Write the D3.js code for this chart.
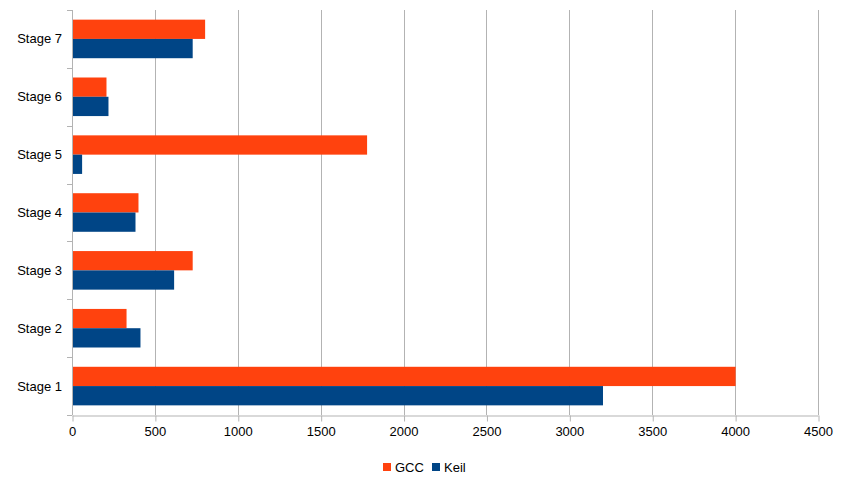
<!DOCTYPE html>
<html>
<head>
<meta charset="utf-8">
<script src="https://cdn.jsdelivr.net/npm/d3@7"></script>
<style>
  body { margin: 0; background: #fff; }
  svg { display: block; font-family: "Liberation Sans", Arial, sans-serif; }
  .axis text { font-size: 13px; fill: #000; }
  .axis path, .axis line { stroke: #b3b3b3; }
</style>
</head>
<body>
<div id="chart"></div>
<script>
// categories bottom to top
var stages = ['Stage 1', 'Stage 2', 'Stage 3', 'Stage 4', 'Stage 5', 'Stage 6', 'Stage 7'];
var gccValues = [4000, 326, 725, 398, 1777, 205, 800];
var keilValues = [3200, 410, 613, 380, 58, 217, 725];
var seriesNames = ['GCC', 'Keil'];
var xTicks = [0, 500, 1000, 1500, 2000, 2500, 3000, 3500, 4000, 4500];

var colors = { GCC: '#ff420e', Keil: '#004586' };

var svgWidth = 849, svgHeight = 479,
    margin = { top: 10, right: 31, bottom: 64, left: 72 },
    chartWidth = svgWidth - margin.left - margin.right,
    chartHeight = svgHeight - margin.top - margin.bottom;

var data = stages.map(function (s, i) {
  return { stage: s, GCC: gccValues[i], Keil: keilValues[i] };
});

var x = d3.scaleLinear().domain([0, 4500]).range([0, chartWidth]);
var y = d3.scaleBand().domain(stages.slice().reverse()).range([0, chartHeight])
  .paddingInner(1 / 3).paddingOuter(1 / 6);
var ySub = d3.scaleBand().domain(seriesNames).range([0, y.bandwidth()]);

var svg = d3.select('#chart').append('svg')
  .attr('width', svgWidth)
  .attr('height', svgHeight);
var g = svg.append('g')
  .attr('transform', 'translate(' + margin.left + ',' + margin.top + ')');

// vertical grid lines
g.append('g')
  .selectAll('line')
  .data(xTicks)
  .enter().append('line')
  .attr('x1', function (d) { return Math.round(x(d)) + 0.5; })
  .attr('x2', function (d) { return Math.round(x(d)) + 0.5; })
  .attr('y1', 0)
  .attr('y2', chartHeight)
  .attr('stroke', '#b3b3b3');

// bars
var groups = g.append('g').selectAll('g')
  .data(data)
  .enter().append('g')
  .attr('transform', function (d) { return 'translate(0,' + y(d.stage) + ')'; });

groups.selectAll('rect')
  .data(function (d) { return seriesNames.map(function (k) { return { key: k, value: d[k] }; }); })
  .enter().append('rect')
  .attr('x', x(0) + 0.5)
  .attr('y', function (d) { return ySub(d.key); })
  .attr('width', function (d) { return x(d.value) - x(0); })
  .attr('height', ySub.bandwidth())
  .attr('fill', function (d) { return colors[d.key]; });

// y axis: ticks between categories
var yEdges = d3.range(stages.length + 1).map(function (i) { return i * chartHeight / stages.length; });
var yAxisG = g.append('g').attr('class', 'axis');
yAxisG.append('line')
  .attr('x1', 0.5).attr('x2', 0.5)
  .attr('y1', 0).attr('y2', chartHeight)
  .attr('stroke', '#b3b3b3');
yAxisG.selectAll('line.tick')
  .data(yEdges)
  .enter().append('line')
  .attr('class', 'tick')
  .attr('x1', -5).attr('x2', 0)
  .attr('y1', function (d) { return Math.round(d) + 0.5; })
  .attr('y2', function (d) { return Math.round(d) + 0.5; })
  .attr('stroke', '#b3b3b3');
yAxisG.selectAll('text')
  .data(stages)
  .enter().append('text')
  .attr('x', -10)
  .attr('y', function (d) { return y(d) + y.bandwidth() / 2; })
  .attr('dy', '0.35em')
  .attr('text-anchor', 'end')
  .text(function (d) { return d; });

// x axis
var xAxis = d3.axisBottom(x).tickValues(xTicks).tickFormat(d3.format('d'))
  .tickSizeInner(6).tickSizeOuter(0).tickPadding(5);
var xAxisG = g.append('g')
  .attr('class', 'axis')
  .attr('transform', 'translate(0,' + (chartHeight + 0.5) + ')')
  .call(xAxis);
xAxisG.selectAll('.tick line').attr('transform', 'translate(0.5,0)');

// legend
var legend = svg.append('g')
  .attr('transform', 'translate(383,463)');
var legendItems = [{ name: 'GCC', x: 0 }, { name: 'Keil', x: 49 }];
legend.selectAll('rect')
  .data(legendItems)
  .enter().append('rect')
  .attr('x', function (d) { return d.x; })
  .attr('y', 0)
  .attr('width', 8)
  .attr('height', 8)
  .attr('fill', function (d) { return colors[d.name]; });
legend.selectAll('text')
  .data(legendItems)
  .enter().append('text')
  .attr('x', function (d) { return d.x + 12; })
  .attr('y', 9)
  .attr('font-size', 13)
  .text(function (d) { return d.name; });
</script>
</body>
</html>
